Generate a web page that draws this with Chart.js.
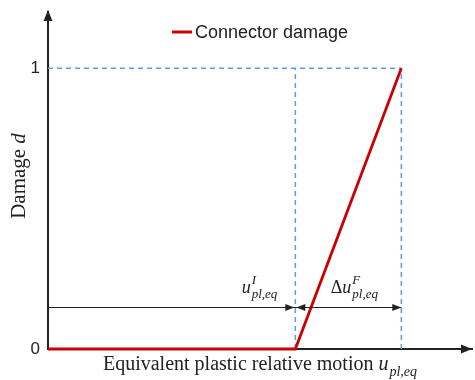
<!DOCTYPE html>
<html lang="en">

<head>
    <meta charset="UTF-8">
    <title>Connector damage</title>
    <style>
        body {
            margin: 0;
            background: white;
        }

        #wrap {
            width: 475px;
            height: 380px;
        }
    </style>
</head>

<body>
    <div id="wrap">
        <canvas id="damageChart"></canvas>
    </div>

    <script src="https://cdn.jsdelivr.net/npm/chart.js"></script>
    <script>
        // Damage evolution law (linear in plastic relative motion)
        const motionPoints = [0, 0.7, 1.0];      // 0, u_I (initiation), u_F (failure)
        const damageValues = [0, 0, 1];
        const yTickValues = [0, 1];
        const dimArrowLevel = 0.15;               // height of the dimension arrows
        const axisMax = { x: 1.2, y: 1.2 };
        const seriesName = 'Connector damage';

        const uI = motionPoints[1];
        const uF = motionPoints[2];

        const RED = '#cc0000';
        const BLUE = '#5a9ee6';
        const INK = '#222';

        // draw "pre + base^sup_sub" with the base in italic
        function drawMath(ctx, x, y, pre, base, sup, sub, size, align) {
            const upright = size + 'px "Liberation Serif"';
            const italic = 'italic ' + size + 'px "Liberation Serif"';
            const small = 'italic ' + Math.round(size * 0.7) + 'px "Liberation Serif"';
            ctx.font = upright;
            const wPre = ctx.measureText(pre).width;
            ctx.font = italic;
            const wBase = ctx.measureText(base).width;
            ctx.font = small;
            const wScript = Math.max(ctx.measureText(sup).width, ctx.measureText(sub).width);
            const total = wPre + wBase + wScript + 1;
            let x0 = x;
            if (align === 'center') x0 = x - total / 2;
            if (align === 'right') x0 = x - total;

            ctx.textAlign = 'left';
            ctx.textBaseline = 'alphabetic';
            ctx.fillStyle = INK;
            ctx.font = upright;
            ctx.fillText(pre, x0, y);
            ctx.font = italic;
            ctx.fillText(base, x0 + wPre, y);
            ctx.font = small;
            const xs = x0 + wPre + wBase + 1;
            if (sup) ctx.fillText(sup, xs, y - size * 0.45);
            if (sub) ctx.fillText(sub, xs, y + size * 0.3);
        }

        function arrowHead(ctx, x, y, dir, len, half) {
            // dir: 'right', 'left', 'up'
            ctx.beginPath();
            if (dir === 'right') {
                ctx.moveTo(x, y);
                ctx.lineTo(x - len, y - half);
                ctx.lineTo(x - len, y + half);
            } else if (dir === 'left') {
                ctx.moveTo(x, y);
                ctx.lineTo(x + len, y - half);
                ctx.lineTo(x + len, y + half);
            } else {
                ctx.moveTo(x, y);
                ctx.lineTo(x - half, y + len);
                ctx.lineTo(x + half, y + len);
            }
            ctx.closePath();
            ctx.fill();
        }

        // axis arrows, dimension arrows, legend and math labels
        const annotations = {
            id: 'annotations',
            afterDatasetsDraw(chart) {
                const { ctx, chartArea, scales } = chart;
                const xs = scales.x, ys = scales.y;
                const x0 = xs.getPixelForValue(0);
                const y0 = ys.getPixelForValue(0);
                const xI = xs.getPixelForValue(uI);
                const xF = xs.getPixelForValue(uF);
                const yDim = Math.round(ys.getPixelForValue(dimArrowLevel)) + 0.5;
                const cx = (chartArea.left + chartArea.right) / 2;

                ctx.save();
                ctx.fillStyle = INK;
                arrowHead(ctx, chartArea.right, y0, 'right', 11, 4.5);
                arrowHead(ctx, x0, chartArea.top - 2, 'up', 11, 4.5);

                // dimension arrows
                ctx.strokeStyle = INK;
                ctx.lineWidth = 1;
                ctx.beginPath();
                ctx.moveTo(x0, yDim);
                ctx.lineTo(xF, yDim);
                ctx.stroke();
                arrowHead(ctx, xI - 1, yDim, 'right', 9, 3.5);
                arrowHead(ctx, xI + 1, yDim, 'left', 9, 3.5);
                arrowHead(ctx, xF, yDim, 'right', 9, 3.5);

                drawMath(ctx, xI - 18, yDim - 15, '', 'u', 'I', 'pl,eq', 18, 'right');
                drawMath(ctx, (xI + xF) / 2 + 6, yDim - 15, '\u0394', 'u', 'F', 'pl,eq', 18, 'center');

                // legend
                ctx.font = '18px "Liberation Sans"';
                const wText = ctx.measureText(seriesName).width;
                const lx = cx - (wText + 23) / 2;
                const ly = chartArea.top + 20;
                ctx.strokeStyle = RED;
                ctx.lineWidth = 3;
                ctx.beginPath();
                ctx.moveTo(lx, ly);
                ctx.lineTo(lx + 20, ly);
                ctx.stroke();
                ctx.fillStyle = INK;
                ctx.textAlign = 'left';
                ctx.textBaseline = 'middle';
                ctx.fillText(seriesName, lx + 23, ly + 1);

                // axis titles
                drawMath(ctx, cx, chartArea.bottom + 21, 'Equivalent plastic relative motion ', 'u', '', 'pl,eq', 20, 'center');

                ctx.translate(25, (chartArea.top + chartArea.bottom) / 2 - 5);
                ctx.rotate(-Math.PI / 2);
                drawMath(ctx, 0, 0, 'Damage ', 'd', '', '', 21, 'center');
                ctx.restore();
            }
        };

        const curve = motionPoints.map((v, i) => ({ x: v, y: damageValues[i] }));
        const guide = (pts) => ({
            data: pts,
            borderColor: BLUE,
            borderWidth: 1.5,
            borderDash: [5, 4],
            pointRadius: 0,
            clip: false
        });

        new Chart(document.getElementById('damageChart'), {
            type: 'line',
            data: {
                datasets: [
                    {
                        label: seriesName,
                        data: curve,
                        borderColor: RED,
                        backgroundColor: RED,
                        borderWidth: 2.8,
                        pointRadius: 0,
                        tension: 0,
                        clip: false
                    },
                    guide([{ x: 0, y: 1 }, { x: uF, y: 1 }]),
                    guide([{ x: uI, y: 0 }, { x: uI, y: 1 }]),
                    guide([{ x: uF, y: 0 }, { x: uF, y: 1 }])
                ]
            },
            options: {
                responsive: true,
                maintainAspectRatio: false,
                animation: false,
                layout: { padding: { top: 12, right: 3 } },
                plugins: {
                    tooltip: { enabled: false },
                    legend: { display: false }
                },
                scales: {
                    x: {
                        type: 'linear',
                        min: 0,
                        max: axisMax.x,
                        grid: { display: false, drawTicks: false },
                        border: { display: true, color: INK, width: 2 },
                        ticks: { display: false },
                        afterFit: (s) => { s.height = 31; }
                    },
                    y: {
                        type: 'linear',
                        min: 0,
                        max: axisMax.y,
                        grid: { display: false, drawTicks: false },
                        border: { display: true, color: INK, width: 2 },
                        afterBuildTicks: (s) => { s.ticks = yTickValues.map(v => ({ value: v })); },
                        ticks: {
                            color: INK,
                            padding: 8,
                            font: { family: '"Liberation Sans"', size: 17 }
                        },
                        afterFit: (s) => {
                            s.width = 48;
                            s.paddingTop = 0;
                            s.paddingBottom = 0;
                        }
                    }
                }
            },
            plugins: [annotations]
        });
    </script>
</body>

</html>
